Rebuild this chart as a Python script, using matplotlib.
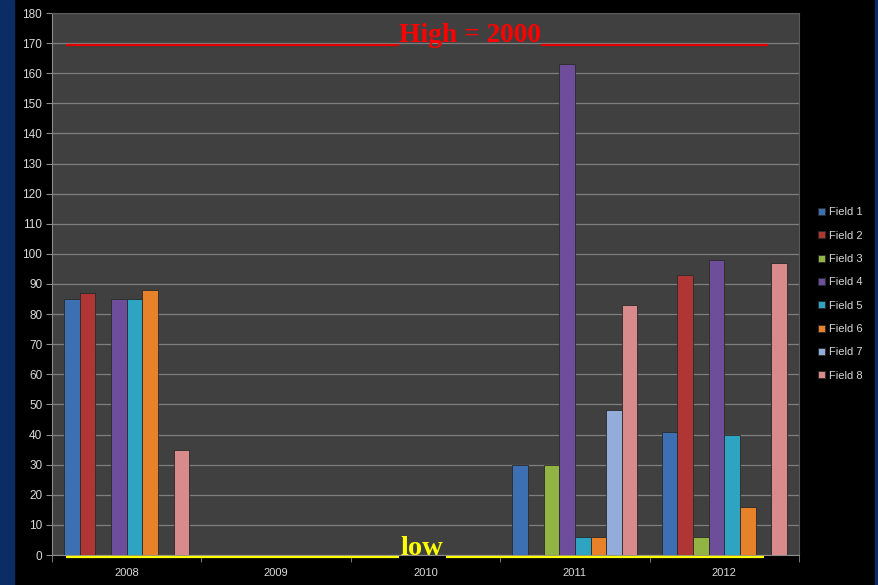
import numpy as np
import matplotlib.pyplot as plt
from matplotlib.patches import Rectangle

years = ["2008", "2009", "2010", "2011", "2012"]
fields = ["Field 1", "Field 2", "Field 3", "Field 4",
          "Field 5", "Field 6", "Field 7", "Field 8"]

# one list per field, values for 2008..2012
field1 = [85, 0, 0, 30, 41]
field2 = [87, 0, 0, 0, 93]
field3 = [0, 0, 0, 30, 6]
field4 = [85, 0, 0, 163, 98]
field5 = [85, 0, 0, 6, 40]
field6 = [88, 0, 0, 6, 16]
field7 = [0, 0, 0, 48, 0]
field8 = [35, 0, 0, 83, 97]
series = [field1, field2, field3, field4, field5, field6, field7, field8]

colors = ["#3d6fb3", "#b03535", "#92b444", "#6e4d9a",
          "#2ea3c2", "#e8822a", "#94acd9", "#d98a8a"]

fig = plt.figure(figsize=(8.79, 5.85), dpi=100, facecolor="black")
# navy frame strips left and right
fig.patches.append(Rectangle((0, 0), 14 / 879, 1, transform=fig.transFigure,
                             color="#0b2d63", zorder=0))
fig.patches.append(Rectangle((875 / 879, 0), 4 / 879, 1, transform=fig.transFigure,
                             color="#0b2d63", zorder=0))

ax = fig.add_axes([52 / 879, 30 / 585, 747 / 879, 542 / 585])
ax.set_facecolor("#404040")

x = np.arange(len(years))
w = 0.1045
for i, (vals, c, name) in enumerate(zip(series, colors, fields)):
    off = (i - 3.5) * w
    ax.bar(x + off, vals, width=w, color=c, edgecolor="#2a2a2a",
           linewidth=0.6, label=name, zorder=3)

ax.set_xlim(-0.5, 4.5)
ax.set_ylim(0, 180)
ax.set_yticks(np.arange(0, 181, 10))
ax.yaxis.grid(True, color="#7f7f7f", linewidth=0.9)
ax.set_axisbelow(True)

ax.set_xticks(x)
ax.set_xticklabels(years)
ax.set_xticks(np.arange(-0.5, 4.6, 1), minor=True)
ax.tick_params(axis="x", which="major", length=0, pad=9,
               colors="#d9d9d9", labelsize=8)
ax.tick_params(axis="x", which="minor", length=5, color="#8c8c8c")
ax.tick_params(axis="y", length=4, color="#8c8c8c", colors="#d9d9d9",
               labelsize=8.5, pad=3)
for lab in ax.get_xticklabels() + ax.get_yticklabels():
    lab.set_fontfamily("Liberation Sans")

for s in ["left", "bottom"]:
    ax.spines[s].set_color("#8c8c8c")
for s in ["top", "right"]:
    ax.spines[s].set_color("#5a5a5a")

# high marker line with label
ax.hlines(169.5, -0.406, 1.823, color="#e00000", linewidth=1.6, zorder=4)
ax.hlines(169.5, 2.773, 4.293, color="#e00000", linewidth=1.6, zorder=4)
ax.text(2.298, 170.3, "High = 2000", color="#ff0000", fontsize=19.8,
        fontweight="bold", family="Liberation Serif",
        ha="center", va="baseline", zorder=5)

# low marker line with label
ax.hlines(-0.55, -0.406, 1.823, color="#ffff00", linewidth=1.6,
          zorder=6, clip_on=False)
ax.hlines(-0.55, 2.137, 4.266, color="#ffff00", linewidth=1.6,
          zorder=6, clip_on=False)
ax.text(1.977, 0.0, "low", color="#ffff00", fontsize=20.5,
        fontweight="bold", family="Liberation Serif",
        ha="center", va="baseline", zorder=7)

leg = fig.legend(loc="center left", bbox_to_anchor=(808 / 879, (585 - 294) / 585),
                 frameon=False, handlelength=0.6, handleheight=0.6,
                 handletextpad=0.4, labelspacing=1.2,
                 prop={"family": "Liberation Sans", "size": 8})
for t in leg.get_texts():
    t.set_color("#d9d9d9")

plt.savefig("out.png", dpi=100, facecolor=fig.get_facecolor())
